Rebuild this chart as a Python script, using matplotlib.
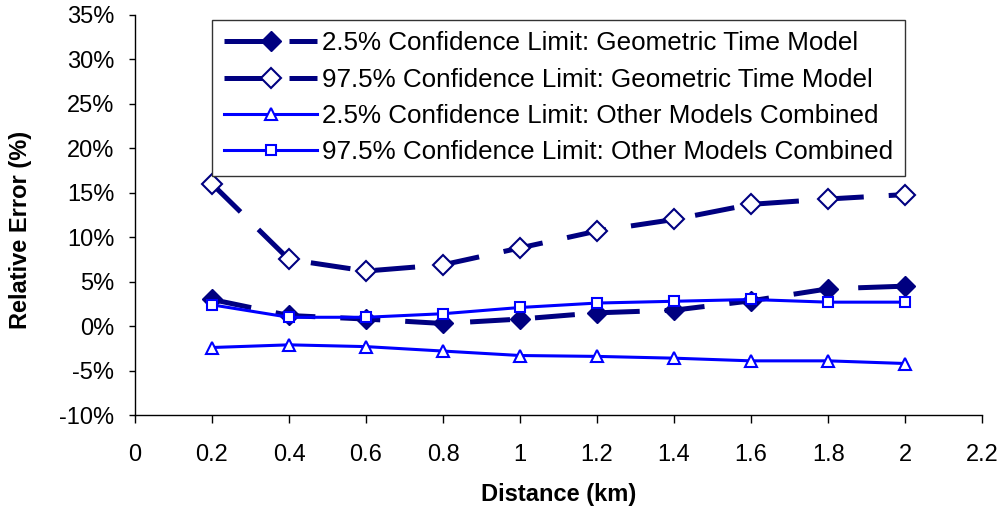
import matplotlib
matplotlib.use("Agg")
import matplotlib.pyplot as plt
from matplotlib.ticker import FuncFormatter

plt.rcParams['font.family'] = ['Liberation Sans', 'DejaVu Sans']

# Distance (km) and relative error (%) for each confidence limit
distance = [0.2, 0.4, 0.6, 0.8, 1.0, 1.2, 1.4, 1.6, 1.8, 2.0]
gtm_low = [3.0, 1.2, 0.8, 0.3, 0.8, 1.5, 1.8, 2.85, 4.2, 4.5]
gtm_high = [16.0, 7.5, 6.2, 6.9, 8.8, 10.7, 12.0, 13.7, 14.3, 14.8]
omc_low = [-2.4, -2.1, -2.3, -2.8, -3.3, -3.4, -3.6, -3.9, -3.9, -4.2]
omc_high = [2.4, 1.0, 1.0, 1.4, 2.1, 2.6, 2.8, 3.0, 2.7, 2.7]

labels = ["2.5% Confidence Limit: Geometric Time Model",
          "97.5% Confidence Limit: Geometric Time Model",
          "2.5% Confidence Limit: Other Models Combined",
          "97.5% Confidence Limit: Other Models Combined"]

xticks = [0, 0.2, 0.4, 0.6, 0.8, 1.0, 1.2, 1.4, 1.6, 1.8, 2.0, 2.2]
xticklabels = ["0", "0.2", "0.4", "0.6", "0.8", "1", "1.2", "1.4",
               "1.6", "1.8", "2", "2.2"]

navy = "#000080"
blue = "#0000ff"

fig = plt.figure(figsize=(10.05, 5.15), dpi=100)
ax = fig.add_axes([0.1343, 0.194, 0.843, 0.777])

ax.plot(distance, gtm_low, color=navy, lw=3.6, dashes=(8, 5),
        marker='D', ms=10, mfc=navy, mec=navy, label=labels[0])
ax.plot(distance, gtm_high, color=navy, lw=3.6, dashes=(8, 5),
        marker='D', ms=10, mfc='white', mec=navy, mew=1.5, label=labels[1])
ax.plot(distance, omc_low, color=blue, lw=2.2,
        marker='^', ms=9, mfc='white', mec=blue, mew=1.5, label=labels[2])
ax.plot(distance, omc_high, color=blue, lw=2.2,
        marker='s', ms=7, mfc='white', mec=blue, mew=1.5, label=labels[3])

ax.set_xlim(0, 2.2)
ax.set_ylim(-10, 35)
ax.set_xticks(xticks)
ax.set_xticklabels(xticklabels)
ax.set_yticks(range(-10, 40, 5))
ax.yaxis.set_major_formatter(FuncFormatter(lambda v, p: "%d%%" % v))

ax.spines['top'].set_visible(False)
ax.spines['right'].set_visible(False)
ax.spines['left'].set_linewidth(1.0)
ax.spines['bottom'].set_linewidth(1.0)
ax.tick_params(axis='y', direction='out', length=4, width=1.0,
               labelsize=17, pad=11)
ax.tick_params(axis='x', direction='out', length=6, width=1.0,
               labelsize=17, pad=15)

ax.set_xlabel("Distance (km)", fontsize=17, fontweight='bold')
ax.xaxis.set_label_coords(0.5, -0.17)
ax.set_ylabel("Relative Error (%)", fontsize=17, fontweight='bold')
ax.yaxis.set_label_coords(-0.122, 0.4625)

leg = ax.legend(loc='upper left', bbox_to_anchor=(0.091, 0.988), fontsize=18.7,
                frameon=True, fancybox=False, edgecolor='#333333',
                framealpha=1, borderpad=0.45, labelspacing=0.47,
                handlelength=3.6, handletextpad=0.2, borderaxespad=0)
leg.get_frame().set_linewidth(1.0)

fig.savefig("out.png", dpi=100)
